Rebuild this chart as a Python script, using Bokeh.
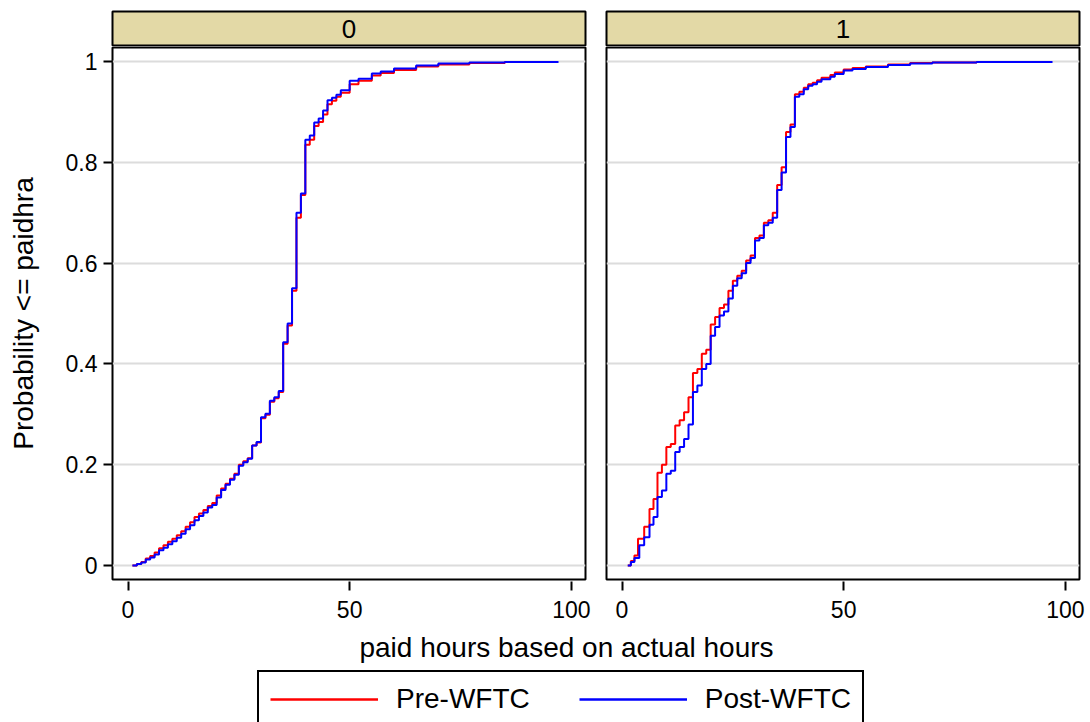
from bokeh.plotting import figure
from bokeh.layouts import column, row
from bokeh.models import Range1d, FixedTicker, Label, Legend, LegendItem
from bokeh.embed import file_html
from bokeh.resources import INLINE

FONT = "Liberation Sans"

# ---- data -------------------------------------------------------------
panel_names = ["0", "1"]
series_names = ["Pre-WFTC", "Post-WFTC"]
series_colors = ["#ff0000", "#0000ff"]

# panel 0: step positions (paid hours) and cumulative share
hrs0_pre = [1, 2, 3, 4, 5, 6, 7, 8, 9, 10, 11, 12, 13, 14, 15, 16, 17, 18, 19, 20,
            21, 22, 23, 24, 25, 26, 27, 28, 29, 30, 31, 32, 33, 34, 35, 36, 37, 38,
            39, 40, 41, 42, 43, 44, 45, 46, 47, 48, 50, 52, 55, 57, 60, 65, 70, 77,
            85, 96]
cdf0_pre = [0.0, 0.003, 0.007, 0.014, 0.019, 0.026, 0.034, 0.040, 0.047, 0.053,
            0.060, 0.068, 0.077, 0.086, 0.096, 0.103, 0.110, 0.118, 0.124, 0.139,
            0.153, 0.162, 0.172, 0.182, 0.200, 0.207, 0.213, 0.238, 0.244, 0.292,
            0.299, 0.325, 0.332, 0.344, 0.440, 0.476, 0.545, 0.690, 0.735, 0.835,
            0.845, 0.872, 0.880, 0.895, 0.915, 0.922, 0.930, 0.938, 0.955, 0.962,
            0.972, 0.977, 0.983, 0.990, 0.994, 0.997, 0.999, 1.0]
hrs0_post = [1, 2, 3, 4, 5, 6, 7, 8, 9, 10, 11, 12, 13, 14, 15, 16, 17, 18, 19, 20,
             21, 22, 23, 24, 25, 26, 27, 28, 29, 30, 31, 32, 33, 34, 35, 36, 37, 38,
             39, 40, 41, 42, 43, 44, 45, 46, 47, 48, 50, 52, 55, 57, 60, 65, 70, 77,
             85, 97]
cdf0_post = [0.0, 0.003, 0.006, 0.012, 0.016, 0.022, 0.030, 0.035, 0.042, 0.048,
             0.055, 0.063, 0.072, 0.080, 0.090, 0.098, 0.105, 0.115, 0.120, 0.135,
             0.150, 0.160, 0.170, 0.180, 0.198, 0.205, 0.212, 0.238, 0.245, 0.294,
             0.301, 0.327, 0.334, 0.346, 0.443, 0.480, 0.550, 0.700, 0.738, 0.845,
             0.853, 0.879, 0.887, 0.903, 0.923, 0.928, 0.934, 0.943, 0.962, 0.966,
             0.976, 0.980, 0.986, 0.992, 0.996, 0.998, 0.999, 1.0]

# panel 1
hrs1_pre = [1.3, 2, 2.8, 3.6, 5, 6.2, 7.1, 8, 9, 10, 11, 12, 13, 14, 15, 16, 17, 18,
            19, 20, 21, 22, 23, 24, 25, 26, 27, 28, 29, 30, 31, 32, 33, 34, 35, 36,
            37, 38, 39, 40, 41, 42, 43, 44, 45, 47, 48, 50, 52, 55, 60, 65, 70, 80,
            96]
cdf1_pre = [0.0, 0.009, 0.020, 0.053, 0.077, 0.112, 0.132, 0.184, 0.200, 0.235,
            0.241, 0.278, 0.288, 0.304, 0.334, 0.382, 0.390, 0.420, 0.428, 0.478,
            0.493, 0.511, 0.518, 0.545, 0.565, 0.575, 0.585, 0.605, 0.615, 0.650,
            0.655, 0.680, 0.685, 0.700, 0.755, 0.790, 0.860, 0.875, 0.935, 0.940,
            0.948, 0.955, 0.958, 0.963, 0.968, 0.973, 0.978, 0.984, 0.987, 0.990,
            0.994, 0.997, 0.998, 0.999, 1.0]
hrs1_post = [1.3, 2, 2.8, 3.9, 5, 6.2, 7.1, 8, 9, 10, 11, 12, 13, 14, 15, 16, 17, 18,
             19, 20, 21, 22, 23, 24, 25, 26, 27, 28, 29, 30, 31, 32, 33, 34, 35, 36,
             37, 38, 39, 40, 41, 42, 43, 44, 45, 47, 48, 50, 52, 55, 60, 65, 70, 80,
             97]
cdf1_post = [0.0, 0.007, 0.015, 0.040, 0.056, 0.081, 0.096, 0.136, 0.149, 0.182,
             0.188, 0.225, 0.235, 0.251, 0.280, 0.344, 0.357, 0.390, 0.400, 0.456,
             0.473, 0.496, 0.504, 0.530, 0.555, 0.570, 0.580, 0.600, 0.610, 0.645,
             0.650, 0.675, 0.680, 0.690, 0.745, 0.780, 0.850, 0.870, 0.930, 0.935,
             0.945, 0.952, 0.955, 0.960, 0.965, 0.970, 0.975, 0.982, 0.985, 0.989,
             0.993, 0.996, 0.998, 0.999, 1.0]

x_ticks = [0, 50, 100]
y_ticks = [0, 0.2, 0.4, 0.6, 0.8, 1]
y_tick_labels = ["0", "0.2", "0.4", "0.6", "0.8", "1"]
x_title = "paid hours based on actual hours"
y_title = "Probability <= paidhra"

# ---- layout constants ---------------------------------------------------
FRAME_W, FRAME_H = 473, 532
STRIP = "#e3d9a6"
GRID = "#dcdcdc"


def make_strip(text, left, right):
    h = figure(frame_width=FRAME_W, frame_height=34,
               x_range=Range1d(0, 1), y_range=Range1d(0, 1),
               x_axis_type=None, y_axis_type=None,
               min_border_left=left, min_border_right=right,
               min_border_top=11, min_border_bottom=1,
               background_fill_color=STRIP, border_fill_color="white",
               outline_line_color="black", outline_line_width=2,
               output_backend="svg", toolbar_location=None)
    h.add_layout(Label(x=0.5, y=0.5, text=text, text_align="center",
                       text_baseline="middle", text_font=FONT,
                       text_font_size="26px", text_color="black"))
    return h


def make_panel(series, left, right, show_y):
    p = figure(frame_width=FRAME_W, frame_height=FRAME_H,
               x_range=Range1d(-3.5, 103.2), y_range=Range1d(-0.0278, 1.0278),
               min_border_left=left, min_border_right=right,
               min_border_top=1, min_border_bottom=45,
               background_fill_color="white", border_fill_color="white",
               outline_line_color="black", outline_line_width=2,
               output_backend="svg", toolbar_location=None)
    p.xgrid.visible = False
    p.ygrid.ticker = FixedTicker(ticks=y_ticks)
    p.ygrid.grid_line_color = GRID
    p.ygrid.grid_line_width = 2

    for (hrs, cdf), color in zip(series, series_colors):
        p.step(x=hrs, y=cdf, mode="after", line_color=color, line_width=2)

    xa = p.xaxis[0]
    xa.ticker = FixedTicker(ticks=x_ticks)
    xa.axis_line_color = None
    xa.major_tick_in = -2
    xa.major_tick_out = 11
    xa.major_tick_line_width = 2
    xa.minor_tick_out = 0
    xa.minor_tick_in = 0
    xa.major_label_standoff = 10
    xa.major_label_text_font = FONT
    xa.major_label_text_font_size = "23px"
    xa.major_label_text_color = "black"

    ya = p.yaxis[0]
    if show_y:
        ya.ticker = FixedTicker(ticks=y_ticks)
        ya.major_label_overrides = dict(zip(y_ticks, y_tick_labels))
        ya.axis_line_color = None
        ya.major_tick_in = 0
        ya.major_tick_out = 9
        ya.major_tick_line_width = 2
        ya.minor_tick_out = 0
        ya.minor_tick_in = 0
        ya.major_label_standoff = 6
        ya.major_label_text_font = FONT
        ya.major_label_text_font_size = "23px"
        ya.major_label_text_color = "black"
        ya.axis_label = y_title
        ya.axis_label_text_font = FONT
        ya.axis_label_text_font_size = "28px"
        ya.axis_label_text_font_style = "normal"
        ya.axis_label_text_color = "black"
        ya.axis_label_standoff = 24
    else:
        ya.visible = False
    return p


strip0 = make_strip(panel_names[0], 112, 10)
strip1 = make_strip(panel_names[1], 11, 11)
panel0 = make_panel([(hrs0_pre, cdf0_pre), (hrs0_post, cdf0_post)], 112, 10, True)
panel1 = make_panel([(hrs1_pre, cdf1_pre), (hrs1_post, cdf1_post)], 11, 11, False)

# bottom band: shared x title and legend
foot = figure(width=1090, height=98, x_range=Range1d(0, 1090), y_range=Range1d(0, 98),
              x_axis_type=None, y_axis_type=None, min_border=0,
              outline_line_color=None, background_fill_color="white",
              border_fill_color="white", output_backend="svg", toolbar_location=None)
foot.xgrid.visible = False
foot.ygrid.visible = False
foot.add_layout(Label(x=566, y=75, text=x_title, text_align="center",
                      text_baseline="middle", text_font=FONT,
                      text_font_size="28px", text_color="black"))

# key samples: lines parked outside the visible band, used only by the legend
key_renderers = [foot.line(x=[-20, -10], y=[-20, -20], line_color=c, line_width=2.5)
                 for c in series_colors]
legend = Legend(items=[LegendItem(label=n, renderers=[r]) for n, r in zip(series_names, key_renderers)],
                orientation="horizontal", location=(257, -6), margin=0,
                padding=11, spacing=49, glyph_width=108, glyph_height=30,
                label_standoff=18, label_text_font=FONT, label_text_font_size="28px",
                label_text_color="black", border_line_color="black",
                border_line_width=2, border_line_alpha=1.0,
                background_fill_color="white", background_fill_alpha=1.0)
foot.add_layout(legend)

layout = column(row(strip0, strip1), row(panel0, panel1), foot)

with open("out.html", "w") as f:
    f.write(file_html(layout, INLINE))
